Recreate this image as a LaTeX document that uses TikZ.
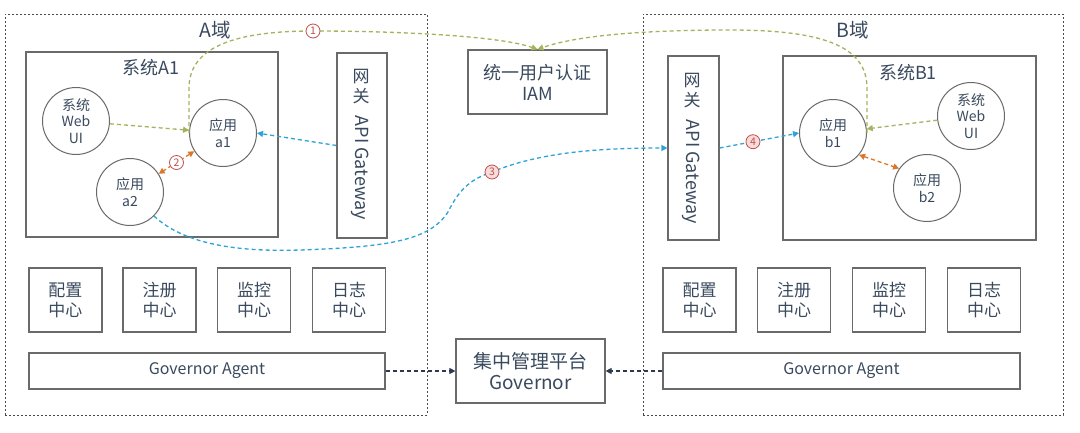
\documentclass[tikz,border=0pt]{standalone}
\usepackage{fontspec}
\setmainfont{Noto Sans CJK SC}
\usetikzlibrary{arrows.meta}
\definecolor{txt}{HTML}{3A4A5E}
\definecolor{boxc}{HTML}{6A6A6A}
\definecolor{domc}{HTML}{4A4A4A}
\definecolor{grn}{HTML}{A3B55C}
\definecolor{org}{HTML}{D9782D}
\definecolor{blu}{HTML}{2EA3D5}
\definecolor{dark}{HTML}{2B3A4E}
\definecolor{numred}{HTML}{C0504D}
\definecolor{numfill}{HTML}{F8DCDC}
\tikzset{
  >={Triangle[length=6pt,width=6pt]},
  dombox/.style={draw=domc, dash pattern=on 2pt off 2pt, line width=0.8pt, inner sep=0pt},
  box/.style={draw=boxc, line width=1.2pt, fill=white, align=center, text=txt, inner sep=0pt},
  circ/.style={circle, draw=boxc, line width=1pt, fill=white, minimum size=67pt, align=center, inner sep=0pt, text=txt, font=\fontsize{14}{16.5}\selectfont},
  lbl/.style={text=txt, inner sep=0pt},
  conn/.style={dash pattern=on 4pt off 3pt, line width=1.3pt},
  numc/.style={circle, solid, draw=numred, line width=0.8pt, fill=white, minimum size=14pt, inner sep=0pt, text=numred, font=\fontsize{10.5}{10.5}\selectfont},
}
\begin{document}
\begin{tikzpicture}[x=1pt,y=-1pt]
\useasboundingbox (0,0) rectangle (1080,432);
\fill[white] (0,0) rectangle (1080,432);
% domains
\node[dombox, minimum width=422pt, minimum height=401pt] (domA) at (216,214.5) {};
\node[dombox, minimum width=420pt, minimum height=401pt] (domB) at (853,214.5) {};
\node[lbl, font=\fontsize{19.5}{19.5}\selectfont] (tA) at (215,30) {A域};
\node[lbl, font=\fontsize{19.5}{19.5}\selectfont] (tB) at (853,30) {B域};
% systems
\node[box, minimum width=252pt, minimum height=185pt] (sysA) at (152,144.5) {};
\node[lbl, font=\fontsize{18}{18}\selectfont] (sysAt) at (151,68) {系统A1};
\node[box, minimum width=253pt, minimum height=184pt] (sysB) at (909.5,148) {};
\node[lbl, font=\fontsize{18}{18}\selectfont] (sysBt) at (908,73) {系统B1};
% gateways
\node[box, minimum width=50pt, minimum height=185pt] (gwA) at (362,145.5) {};
\node[lbl, font=\fontsize{17}{17}\selectfont] (gwA1) at (361,77) {网};
\node[lbl, font=\fontsize{17}{17}\selectfont] (gwA2) at (361,96) {关};
\node[lbl, font=\fontsize{18}{18}\selectfont, rotate=-90] (gwA3) at (360,168) {API Gateway};
\node[box, minimum width=51pt, minimum height=184pt] (gwB) at (693.5,148) {};
\node[lbl, font=\fontsize{17}{17}\selectfont] (gwB1) at (692,81) {网};
\node[lbl, font=\fontsize{17}{17}\selectfont] (gwB2) at (692,100) {关};
\node[lbl, font=\fontsize{18}{18}\selectfont, rotate=-90] (gwB3) at (691,172) {API Gateway};
% IAM
\node[box, minimum width=139pt, minimum height=64pt, font=\fontsize{18}{21}\selectfont] (iam) at (537.5,82) {统一用户认证\\IAM};
% circles
\node[circ] (wa) at (76,121) {系统\\Web\\UI};
\node[circ] (a1) at (223,133) {应用\\a1};
\node[circ] (a2) at (130,192) {应用\\a2};
\node[circ] (b1) at (833,133) {应用\\b1};
\node[circ] (b2) at (927,188) {应用\\b2};
\node[circ] (wb) at (971,116) {系统\\Web\\UI};
% bottom boxes
\tikzset{cbox/.style={box, minimum width=73pt, minimum height=64pt, font=\fontsize{17}{20}\selectfont}}
\node[cbox] (cfgA) at (65.5,300) {配置\\中心};
\node[cbox] (regA) at (159.5,300) {注册\\中心};
\node[cbox] (monA) at (254,300) {监控\\中心};
\node[cbox] (logA) at (349,300) {日志\\中心};
\node[box, minimum width=356pt, minimum height=36pt, font=\fontsize{16}{16}\selectfont] (agA) at (207,371) {Governor Agent};
\node[cbox] (cfgB) at (699.5,300) {配置\\中心};
\node[cbox] (regB) at (794,300) {注册\\中心};
\node[cbox] (monB) at (889,300) {监控\\中心};
\node[cbox] (logB) at (984,300) {日志\\中心};
\node[box, minimum width=357pt, minimum height=36pt, font=\fontsize{16}{16}\selectfont] (agB) at (841.5,371) {Governor Agent};
\node[box, minimum width=149pt, minimum height=64pt, font=\fontsize{19}{21}\selectfont] (gov) at (530.5,371) {集中管理平台\\Governor};
% connectors
\coordinate (m1) at (313,31);
\coordinate (m3) at (492,172);
\draw[conn, draw=grn, ->] (a1.west) -- (189,88) .. controls (189,45) and (240,31) .. (m1) .. controls (400,31) and (500,36) .. (iam.north);
\draw[conn, draw=grn, ->] (b1.east) -- (867,88) .. controls (867,45) and (820,30) .. (730,30) .. controls (640,30) and (575,36) .. (iam.north);
\draw[conn, draw=grn, ->] (wa) -- (a1);
\draw[conn, draw=grn, ->] (wb) -- (b1);
\draw[conn, draw=blu, ->] (gwA.west) -- (a1.east);
\draw[conn, draw=blu, ->] (a2.-45) .. controls (185,245) and (240,252) .. (300,250) .. controls (390,247) and (430,240) .. (448,212) .. controls (458,192) and (468,180) .. (m3) .. controls (540,152) and (600,148) .. (gwB.west);
\draw[conn, draw=blu, ->] (gwB.east) -- node[numc, fill=numfill, pos=0.42] (n4) {4} (b1.west);
\draw[conn, draw=org, <->] (a1) -- node[numc, pos=0.5] (n2) {2} (a2);
\draw[conn, draw=org, <->] (b1.-40) -- (b2.145);
\draw[conn, draw=dark, line width=1.1pt, ->] (agA.east) -- (gov.west);
\draw[conn, draw=dark, line width=1.1pt, ->] (agB.west) -- (gov.east);
\node[numc] (n1) at (m1) {1};
\node[numc, fill=numfill] (n3) at (m3) {3};
\end{tikzpicture}
\end{document}
